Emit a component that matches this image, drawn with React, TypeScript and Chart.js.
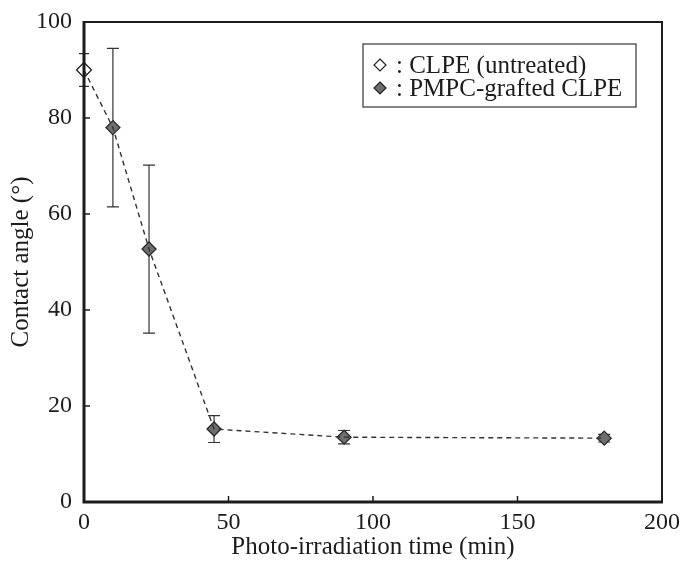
import React, { useEffect, useRef } from 'react';
import { Chart, registerables } from 'chart.js';

Chart.register(...registerables);

// ---- data ----
const untreatedTime = [0];
const untreatedAngle = [90];
const untreatedErr = [3.4];

const graftedTime = [10, 22.5, 45, 90, 180];
const graftedAngle = [78, 52.7, 15.2, 13.5, 13.3];
const graftedErr = [16.5, 17.5, 2.8, 1.4, 0.8];

const xTickValues = [0, 50, 100, 150, 200];
const yTickValues = [0, 20, 40, 60, 80, 100];
const legendLabels = [': CLPE (untreated)', ': PMPC-grafted CLPE'];
const xTitle = 'Photo-irradiation time (min)';
const yTitle = 'Contact angle (°)';

const FONT = '"Liberation Serif", "DejaVu Serif", serif';
const INK = '#1c1c1c';

const errorBarPlugin = {
  id: 'errorBars',
  beforeDatasetsDraw(chart: any) {
    const { ctx, scales } = chart;
    const xs = scales.x;
    const ys = scales.y;
    const groups = [
      { t: untreatedTime, v: untreatedAngle, e: untreatedErr, cap: 5 },
      { t: graftedTime, v: graftedAngle, e: graftedErr, cap: 6 },
    ];
    ctx.save();
    ctx.strokeStyle = '#333';
    ctx.lineWidth = 1.2;
    groups.forEach((g) => {
      g.t.forEach((t, i) => {
        const px = xs.getPixelForValue(t);
        const top = ys.getPixelForValue(g.v[i] + g.e[i]);
        const bot = ys.getPixelForValue(g.v[i] - g.e[i]);
        ctx.beginPath();
        ctx.moveTo(px, top);
        ctx.lineTo(px, bot);
        ctx.moveTo(px - g.cap, top);
        ctx.lineTo(px + g.cap, top);
        ctx.moveTo(px - g.cap, bot);
        ctx.lineTo(px + g.cap, bot);
        ctx.stroke();
      });
    });
    ctx.restore();
  },
};

const framePlugin = {
  id: 'frame',
  afterDatasetsDraw(chart: any) {
    const { ctx, chartArea, scales } = chart;
    const { left, right, top, bottom } = chartArea;
    ctx.save();
    ctx.strokeStyle = INK;
    ctx.lineWidth = 2;
    ctx.beginPath();
    ctx.moveTo(left, top);
    ctx.lineTo(right, top);
    ctx.lineTo(right, bottom);
    ctx.stroke();
    ctx.lineWidth = 3;
    ctx.beginPath();
    ctx.moveTo(left, top - 1);
    ctx.lineTo(left, bottom);
    ctx.lineTo(right + 1, bottom);
    ctx.stroke();
    ctx.lineWidth = 1.5;
    ctx.beginPath();
    xTickValues.forEach((v) => {
      const px = scales.x.getPixelForValue(v);
      ctx.moveTo(px, bottom);
      ctx.lineTo(px, bottom - 6);
    });
    yTickValues.forEach((v) => {
      const py = scales.y.getPixelForValue(v);
      ctx.moveTo(left, py);
      ctx.lineTo(left + 6, py);
    });
    ctx.stroke();

    // legend box
    const bx = 363, by = 44, bw = 273, bh = 63;
    ctx.lineWidth = 1.2;
    ctx.strokeStyle = '#333';
    ctx.strokeRect(bx, by, bw, bh);
    const rows = [65, 88];
    const styles = [
      { fill: '#ffffff', stroke: '#222' },
      { fill: '#6e6e6e', stroke: '#222' },
    ];
    rows.forEach((ry, i) => {
      const cx = 380;
      const r = 6;
      ctx.beginPath();
      ctx.moveTo(cx, ry - r);
      ctx.lineTo(cx + r, ry);
      ctx.lineTo(cx, ry + r);
      ctx.lineTo(cx - r, ry);
      ctx.closePath();
      ctx.fillStyle = styles[i].fill;
      ctx.fill();
      ctx.lineWidth = 1.2;
      ctx.strokeStyle = styles[i].stroke;
      ctx.stroke();
      ctx.fillStyle = INK;
      ctx.font = `25px ${FONT}`;
      ctx.textBaseline = 'middle';
      ctx.textAlign = 'left';
      ctx.fillText(legendLabels[i], 396, ry + 1);
    });
    ctx.restore();
  },
};

export default function App() {
  const ref = useRef<HTMLCanvasElement | null>(null);

  useEffect(() => {
    document.body.style.margin = '0';
    const canvas = ref.current;
    if (!canvas) return;
    const lineData = [
      { x: untreatedTime[0], y: untreatedAngle[0] },
      ...graftedTime.map((t, i) => ({ x: t, y: graftedAngle[i] })),
    ];
    const chart = new Chart(canvas, {
      type: 'scatter',
      data: {
        datasets: [
          {
            type: 'line',
            label: 'trend',
            data: lineData,
            borderColor: '#333',
            borderWidth: 1.4,
            borderDash: [5, 4],
            pointRadius: 0,
            fill: false,
            tension: 0,
            clip: false,
          } as any,
          {
            label: 'CLPE (untreated)',
            data: untreatedTime.map((t, i) => ({ x: t, y: untreatedAngle[i] })),
            pointStyle: 'rectRot',
            pointRadius: 7.5,
            backgroundColor: '#ffffff',
            borderColor: '#222',
            borderWidth: 1.3,
            clip: false,
          } as any,
          {
            label: 'PMPC-grafted CLPE',
            data: graftedTime.map((t, i) => ({ x: t, y: graftedAngle[i] })),
            pointStyle: 'rectRot',
            pointRadius: 7,
            backgroundColor: '#6e6e6e',
            borderColor: '#2a2a2a',
            borderWidth: 1.3,
            clip: false,
          } as any,
        ],
      },
      options: {
        animation: false,
        responsive: false,
        maintainAspectRatio: false,
        layout: { padding: { left: 6, right: 19, top: 22, bottom: 3 } },
        plugins: { legend: { display: false }, tooltip: { enabled: false } },
        scales: {
          x: {
            type: 'linear',
            min: 0,
            max: 200,
            afterBuildTicks: (s: any) => {
              s.ticks = xTickValues.map((v) => ({ value: v }));
            },
            ticks: { font: { family: FONT, size: 24 }, color: INK, padding: 6, maxRotation: 0 },
            grid: { display: false, drawTicks: false },
            border: { display: false },
            title: {
              display: true,
              text: xTitle,
              font: { family: FONT, size: 25 },
              color: INK,
              padding: { top: 0, bottom: 0 },
            },
            afterFit: (s: any) => {
              s.height = 565 - 502 - 3;
              s.paddingRight = 0;
              s.paddingLeft = 0;
            },
          },
          y: {
            type: 'linear',
            min: 0,
            max: 100,
            afterBuildTicks: (s: any) => {
              s.ticks = yTickValues.map((v) => ({ value: v }));
            },
            ticks: { font: { family: FONT, size: 24 }, color: INK, padding: 12 },
            grid: { display: false, drawTicks: false },
            border: { display: false },
            title: {
              display: true,
              text: yTitle,
              font: { family: FONT, size: 25 },
              color: INK,
              padding: { top: 0, bottom: 0 },
            },
            afterFit: (s: any) => {
              s.width = 84 - 6;
              s.paddingTop = 0;
              s.paddingBottom = 0;
            },
          },
        },
      },
      plugins: [errorBarPlugin, framePlugin],
    });
    return () => chart.destroy();
  }, []);

  return <canvas ref={ref} width={681} height={565} style={{ display: 'block' }} />;
}
